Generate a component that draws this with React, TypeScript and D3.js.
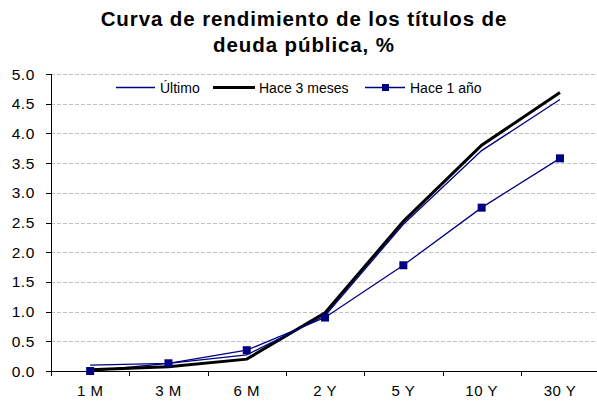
import React from 'react';
import * as d3 from 'd3';

const categories = ['1 M', '3 M', '6 M', '2 Y', '5 Y', '10 Y', '30 Y'];
const ultimo = [0.1, 0.13, 0.27, 0.93, 2.47, 3.71, 4.57];
const hace3Meses = [0.02, 0.07, 0.2, 0.98, 2.52, 3.8, 4.69];
const hace1Ano = [0.0, 0.13, 0.35, 0.9, 1.78, 2.75, 3.58];
const yTicks = [0, 0.5, 1, 1.5, 2, 2.5, 3, 3.5, 4, 4.5, 5];

const W = 597;
const H = 404;
const margin = { top: 74, right: 0, bottom: 33, left: 51 };
const font = 'Liberation Sans, Arial, sans-serif';

export default function App() {
  const x = d3
    .scaleBand<string>()
    .domain(categories)
    .range([margin.left, margin.left + 7 * 78.3]);
  const y = d3
    .scaleLinear()
    .domain([0, 5])
    .range([H - margin.bottom, margin.top]);

  const line = d3
    .line<number>()
    .x((_, i) => (x(categories[i]) as number) + x.bandwidth() / 2)
    .y((d) => y(d));

  const plotRight = W;
  const bottom = y(0);

  return (
    <svg width={W} height={H} style={{ position: 'absolute', left: 0, top: 0, background: '#fff' }}>
      <g fontFamily={font} fontWeight="bold" fontSize={20.5} letterSpacing={0.9} textAnchor="middle">
        <text x={304} y={26}>Curva de rendimiento de los títulos de</text>
        <text x={304} y={52}>deuda pública, %</text>
      </g>

      {yTicks.slice(1).map((t) => (
        <line
          key={'g' + t}
          x1={margin.left}
          x2={plotRight}
          y1={Math.round(y(t)) + 0.5}
          y2={Math.round(y(t)) + 0.5}
          stroke="#c0c0c0"
          strokeDasharray="4,2"
        />
      ))}

      {yTicks.map((t) => (
        <g key={'y' + t}>
          <line x1={margin.left - 5} x2={margin.left} y1={Math.round(y(t)) + 0.5} y2={Math.round(y(t)) + 0.5} stroke="#000" />
          <text x={35} y={y(t) + 5.5} textAnchor="end" fontFamily={font} fontSize={15.5} letterSpacing={0.6}>
            {t.toFixed(1)}
          </text>
        </g>
      ))}

      <line x1={margin.left + 0.5} x2={margin.left + 0.5} y1={margin.top} y2={bottom} stroke="#000" />
      <line x1={margin.left} x2={plotRight} y1={Math.round(bottom) + 0.5} y2={Math.round(bottom) + 0.5} stroke="#000" />

      {categories.map((c) => (
        <g key={c}>
          <line
            x1={Math.round(x(c) as number) + 0.5}
            x2={Math.round(x(c) as number) + 0.5}
            y1={bottom}
            y2={bottom + 5}
            stroke="#000"
          />
          <text
            x={(x(c) as number) + x.bandwidth() / 2}
            y={bottom + 25}
            textAnchor="middle"
            fontFamily={font}
            fontSize={15}
            letterSpacing={0.5}
          >
            {c}
          </text>
        </g>
      ))}

      <path d={line(hace1Ano) || ''} fill="none" stroke="#000080" strokeWidth={1.3} />
      <path d={line(hace3Meses) || ''} fill="none" stroke="#000" strokeWidth={3} />
      <path d={line(ultimo) || ''} fill="none" stroke="#000080" strokeWidth={1.3} />
      {hace1Ano.map((v, i) => (
        <rect
          key={'m' + i}
          x={(x(categories[i]) as number) + x.bandwidth() / 2 - 4}
          y={y(v) - 4}
          width={8}
          height={8}
          fill="#000080"
        />
      ))}

      <g fontFamily={font} fontSize={14}>
        <line x1={116} x2={155} y1={87.5} y2={87.5} stroke="#000080" strokeWidth={1.3} />
        <text x={160} y={92.5}>Último</text>
        <line x1={213} x2={255} y1={87.5} y2={87.5} stroke="#000" strokeWidth={3} />
        <text x={259} y={92.5}>Hace 3 meses</text>
        <line x1={365} x2={405} y1={87.5} y2={87.5} stroke="#000080" strokeWidth={1.3} />
        <rect x={382} y={84} width={7} height={7} fill="#000080" />
        <text x={410} y={92.5}>Hace 1 año</text>
      </g>
    </svg>
  );
}
